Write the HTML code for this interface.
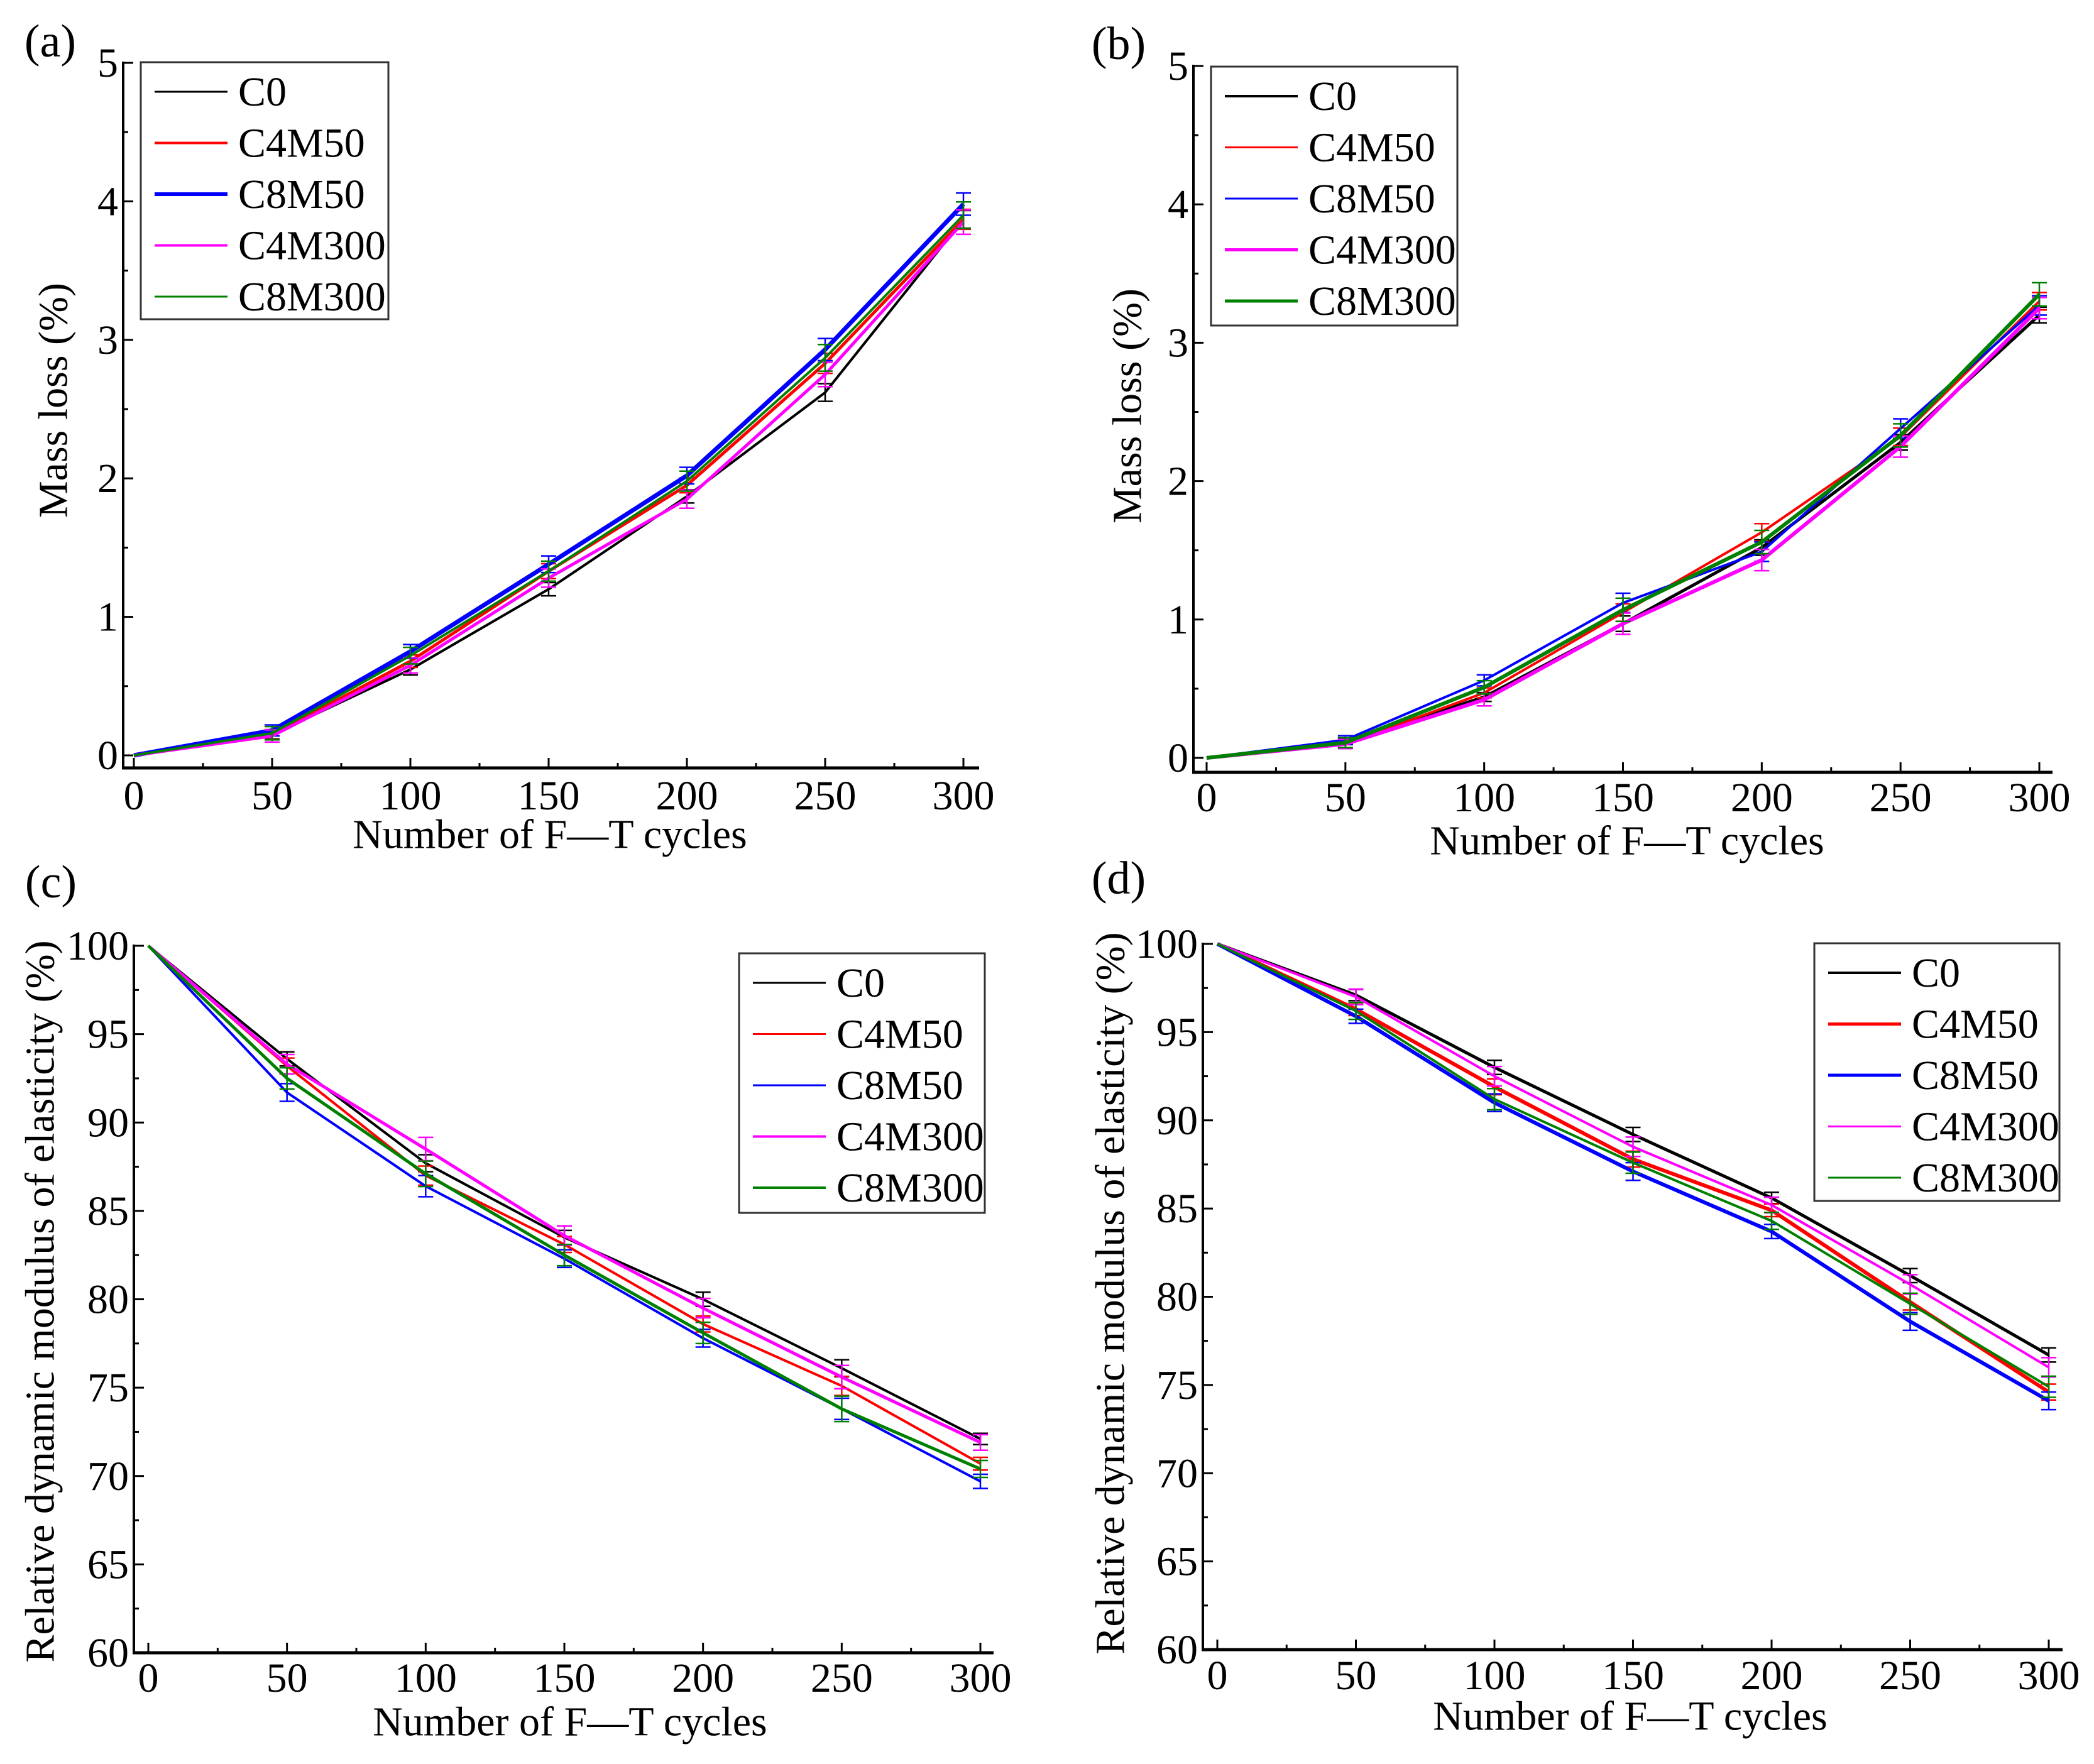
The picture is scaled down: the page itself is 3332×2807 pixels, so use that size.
<!DOCTYPE html>
<html><head><meta charset="utf-8"><style>
html,body{margin:0;padding:0;background:#fff;}
svg{display:block;}
svg text{font-family:"Liberation Serif","DejaVu Serif","Times New Roman",serif;fill:#000;}
</style></head><body>
<svg id="fig" width="3332" height="2807" viewBox="0 0 3332 2807" xmlns="http://www.w3.org/2000/svg" font-family="Liberation Serif, DejaVu Serif, serif"></svg>
<script>
const cycles=[0,50,100,150,200,250,300];
const seriesNames=["C0","C4M50","C8M50","C4M300","C8M300"];
const seriesColors=["#000000","#ff0000","#0000ff","#ff00ff","#008000"];
// panel a: mass loss
const aC0=[0,0.15,0.62,1.2,1.87,2.62,3.87];
const aC4M50=[0,0.15,0.68,1.33,1.95,2.83,3.87];
const aC8M50=[0,0.18,0.75,1.38,2.02,2.93,3.98];
const aC4M300=[0,0.14,0.65,1.28,1.85,2.75,3.85];
const aC8M300=[0,0.16,0.72,1.33,1.98,2.87,3.9];
const aErr=[0,0.04,0.05,0.06,0.06,0.08,0.08];
// panel b: mass loss
const bC0=[0,0.12,0.44,0.97,1.52,2.28,3.2];
const bC4M50=[0,0.1,0.47,1.05,1.63,2.32,3.3];
const bC8M50=[0,0.13,0.56,1.12,1.49,2.38,3.27];
const bC4M300=[0,0.1,0.42,0.97,1.43,2.25,3.25];
const bC8M300=[0,0.11,0.51,1.07,1.56,2.33,3.35];
const bErr=[0,0.03,0.04,0.07,0.07,0.07,0.07];
// panel c: relative dynamic modulus
const cC0=[100,93.6,87.7,83.5,80,76.1,72.1];
const cC4M50=[100,93.2,87,83.1,78.6,75.1,70.7];
const cC8M50=[100,91.7,86.4,82.3,77.8,73.8,69.7];
const cC4M300=[100,93.3,88.5,83.6,79.5,75.6,71.9];
const cC8M300=[100,92.5,87.1,82.5,78.1,73.8,70.4];
const cErr=[0,0.5,0.6,0.5,0.5,0.6,0.4];
// panel d: relative dynamic modulus
const dC0=[100,97.1,93,89.2,85.6,81.2,76.7];
const dC4M50=[100,96.3,91.9,87.8,84.9,79.7,74.6];
const dC8M50=[100,95.9,91,87.1,83.7,78.6,74.1];
const dC4M300=[100,97,92.5,88.5,85.2,80.7,76];
const dC8M300=[100,96.2,91.2,87.6,84.3,79.6,74.9];
const dErr=[0,0.4,0.5,0.5,0.4,0.5,0.5];
const xTicks=[0,50,100,150,200,250,300];
const massTicks=[0,1,2,3,4,5];
const modTicks=[60,65,70,75,80,85,90,95,100];

const NS="http://www.w3.org/2000/svg";
const FONT='"Liberation Serif", "DejaVu Serif", serif';
const fig=document.getElementById('fig');
function el(tag,attrs,parent){const e=document.createElementNS(NS,tag);for(const k in attrs)e.setAttribute(k,attrs[k]);if(tag==='text'){e.setAttribute('font-family',FONT);e.style.fontFamily=FONT;}(parent||fig).appendChild(e);return e;}

const panels=[
 {id:'a',label:'(a)',lx:80,ly:90,ax:196,x0:213,x1:1533,axEnd:1558,y0:1202,y1:100,axY:1222,ymin:0,ymax:5,yt:massTicks,ym:0.5,
  data:[aC0,aC4M50,aC8M50,aC4M300,aC8M300],err:aErr,ytitle:'Mass loss (%)',ytx:85,yty:637,xtx:875,xty:1328,tly:1288,
  leg:{x:224,y:99,w:394,h:409},lw:[3,4,6,4,3]},
 {id:'b',label:'(b)',lx:1780,ly:94,ax:1899,x0:1920,x1:3245,axEnd:3266,y0:1206,y1:105,axY:1229,ymin:0,ymax:5,yt:massTicks,ym:0.5,
  data:[bC0,bC4M50,bC8M50,bC4M300,bC8M300],err:bErr,ytitle:'Mass loss (%)',ytx:1794,yty:646,xtx:2589,xty:1338,tly:1291,
  leg:{x:1927,y:106,w:392,h:412},lw:[4,3,3,5,5]},
 {id:'c',label:'(c)',lx:81,ly:1428,ax:213,x0:236,x1:1560,axEnd:1581,y0:2630,y1:1505,axY:2630,ymin:60,ymax:100,yt:modTicks,ym:2.5,
  data:[cC0,cC4M50,cC8M50,cC4M300,cC8M300],err:cErr,ytitle:'Relative dynamic modulus of elasticity (%)',ytx:64,yty:2071,xtx:907,xty:2740,tly:2692,
  leg:{x:1176,y:1517,w:391,h:413},lw:[3,3,3,4,4]},
 {id:'d',label:'(d)',lx:1780,ly:1422,ax:1914,x0:1937,x1:3260,axEnd:3282,y0:2625,y1:1502,axY:2625,ymin:60,ymax:100,yt:modTicks,ym:2.5,
  data:[dC0,dC4M50,dC8M50,dC4M300,dC8M300],err:dErr,ytitle:'Relative dynamic modulus of elasticity (%)',ytx:1767,yty:2058,xtx:2594,xty:2731,tly:2688,
  leg:{x:2887,y:1501,w:390,h:410},lw:[4,5,5,3,3]}
];

panels.forEach(p=>{
  const g=el('g',{});
  
  
  const X=v=>p.x0+(v-0)/(300-0)*(p.x1-p.x0);
  const Y=v=>p.y0+(v-p.ymin)/(p.ymax-p.ymin)*(p.y1-p.y0);
  const lab=el('text',{x:p.lx,y:p.ly,'font-size':74,'text-anchor':'middle'},g);lab.textContent=p.label;
  
  
  const yAxis=el('line',{x1:p.ax,y1:p.axY+2,x2:p.ax,y2:p.y1-2,stroke:'#000','stroke-width':4},g);
  
  
  const xAxis=el('line',{x1:p.ax-2,y1:p.axY,x2:p.axEnd,y2:p.axY,stroke:'#000','stroke-width':5},g);
  
  
  xTicks.forEach((t,i)=>{
    el('line',{x1:X(t),y1:p.axY,x2:X(t),y2:p.axY-16,stroke:'#000','stroke-width':3},g);
    if(i<xTicks.length-1) el('line',{x1:X(t+25),y1:p.axY,x2:X(t+25),y2:p.axY-8,stroke:'#000','stroke-width':3},g);
    const tl=el('text',{x:X(t),y:p.tly,'font-size':66,'text-anchor':'middle'},g);tl.textContent=t;
    
    
  });
  p.yt.forEach((t,i)=>{
    el('line',{x1:p.ax,y1:Y(t),x2:p.ax+16,y2:Y(t),stroke:'#000','stroke-width':3},g);
    if(i<p.yt.length-1) el('line',{x1:p.ax,y1:Y(t+p.ym),x2:p.ax+8,y2:Y(t+p.ym),stroke:'#000','stroke-width':3},g);
    const tl=el('text',{x:p.ax-8,y:Y(t)+22,'font-size':66,'text-anchor':'end'},g);tl.textContent=t;
    
    
  });
  const yt=el('text',{x:p.ytx,y:p.yty,'font-size':66,'text-anchor':'middle','dominant-baseline':'central',transform:`rotate(-90 ${p.ytx} ${p.yty})`},g);
  yt.textContent=p.ytitle;
  
  
  const xt=el('text',{x:p.xtx,y:p.xty,'font-size':66,'text-anchor':'middle','dominant-baseline':'central'},g);
  xt.textContent='Number of F\u2014T cycles';
  
  
  p.data.forEach((arr,si)=>{
    const col=seriesColors[si];
    const sg=el('g',{},g);
    
    
    const pts=arr.map((v,i)=>X(cycles[i])+','+Y(v)).join(' ');
    el('polyline',{points:pts,fill:'none',stroke:col,'stroke-width':p.lw[si]+1,'stroke-linejoin':'round'},sg);
    arr.forEach((v,i)=>{
      if(i===0)return;
      const e=p.err[i]*(0.8+0.1*si);
      const x=X(cycles[i]);
      el('line',{x1:x,y1:Y(v+e),x2:x,y2:Y(v-e),stroke:col,'stroke-width':2.5},sg);
      el('line',{x1:x-12,y1:Y(v+e),x2:x+12,y2:Y(v+e),stroke:col,'stroke-width':2.5},sg);
      el('line',{x1:x-12,y1:Y(v-e),x2:x+12,y2:Y(v-e),stroke:col,'stroke-width':2.5},sg);
    });
  });
  const L=p.leg;
  const lg=el('g',{},g);
  
  
  el('rect',{x:L.x,y:L.y,width:L.w,height:L.h,fill:'#fff',stroke:'#333','stroke-width':3},lg);
  seriesNames.forEach((n,si)=>{
    const ry=L.y+47+si*81.5;
    const eg=el('g',{},lg);
    
    
    el('line',{x1:L.x+22,y1:ry,x2:L.x+138,y2:ry,stroke:seriesColors[si],'stroke-width':p.lw[si]},eg);
    const t=el('text',{x:L.x+155,y:ry+22,'font-size':66},eg);t.textContent=n;
  });
});
</script>
</body></html>
